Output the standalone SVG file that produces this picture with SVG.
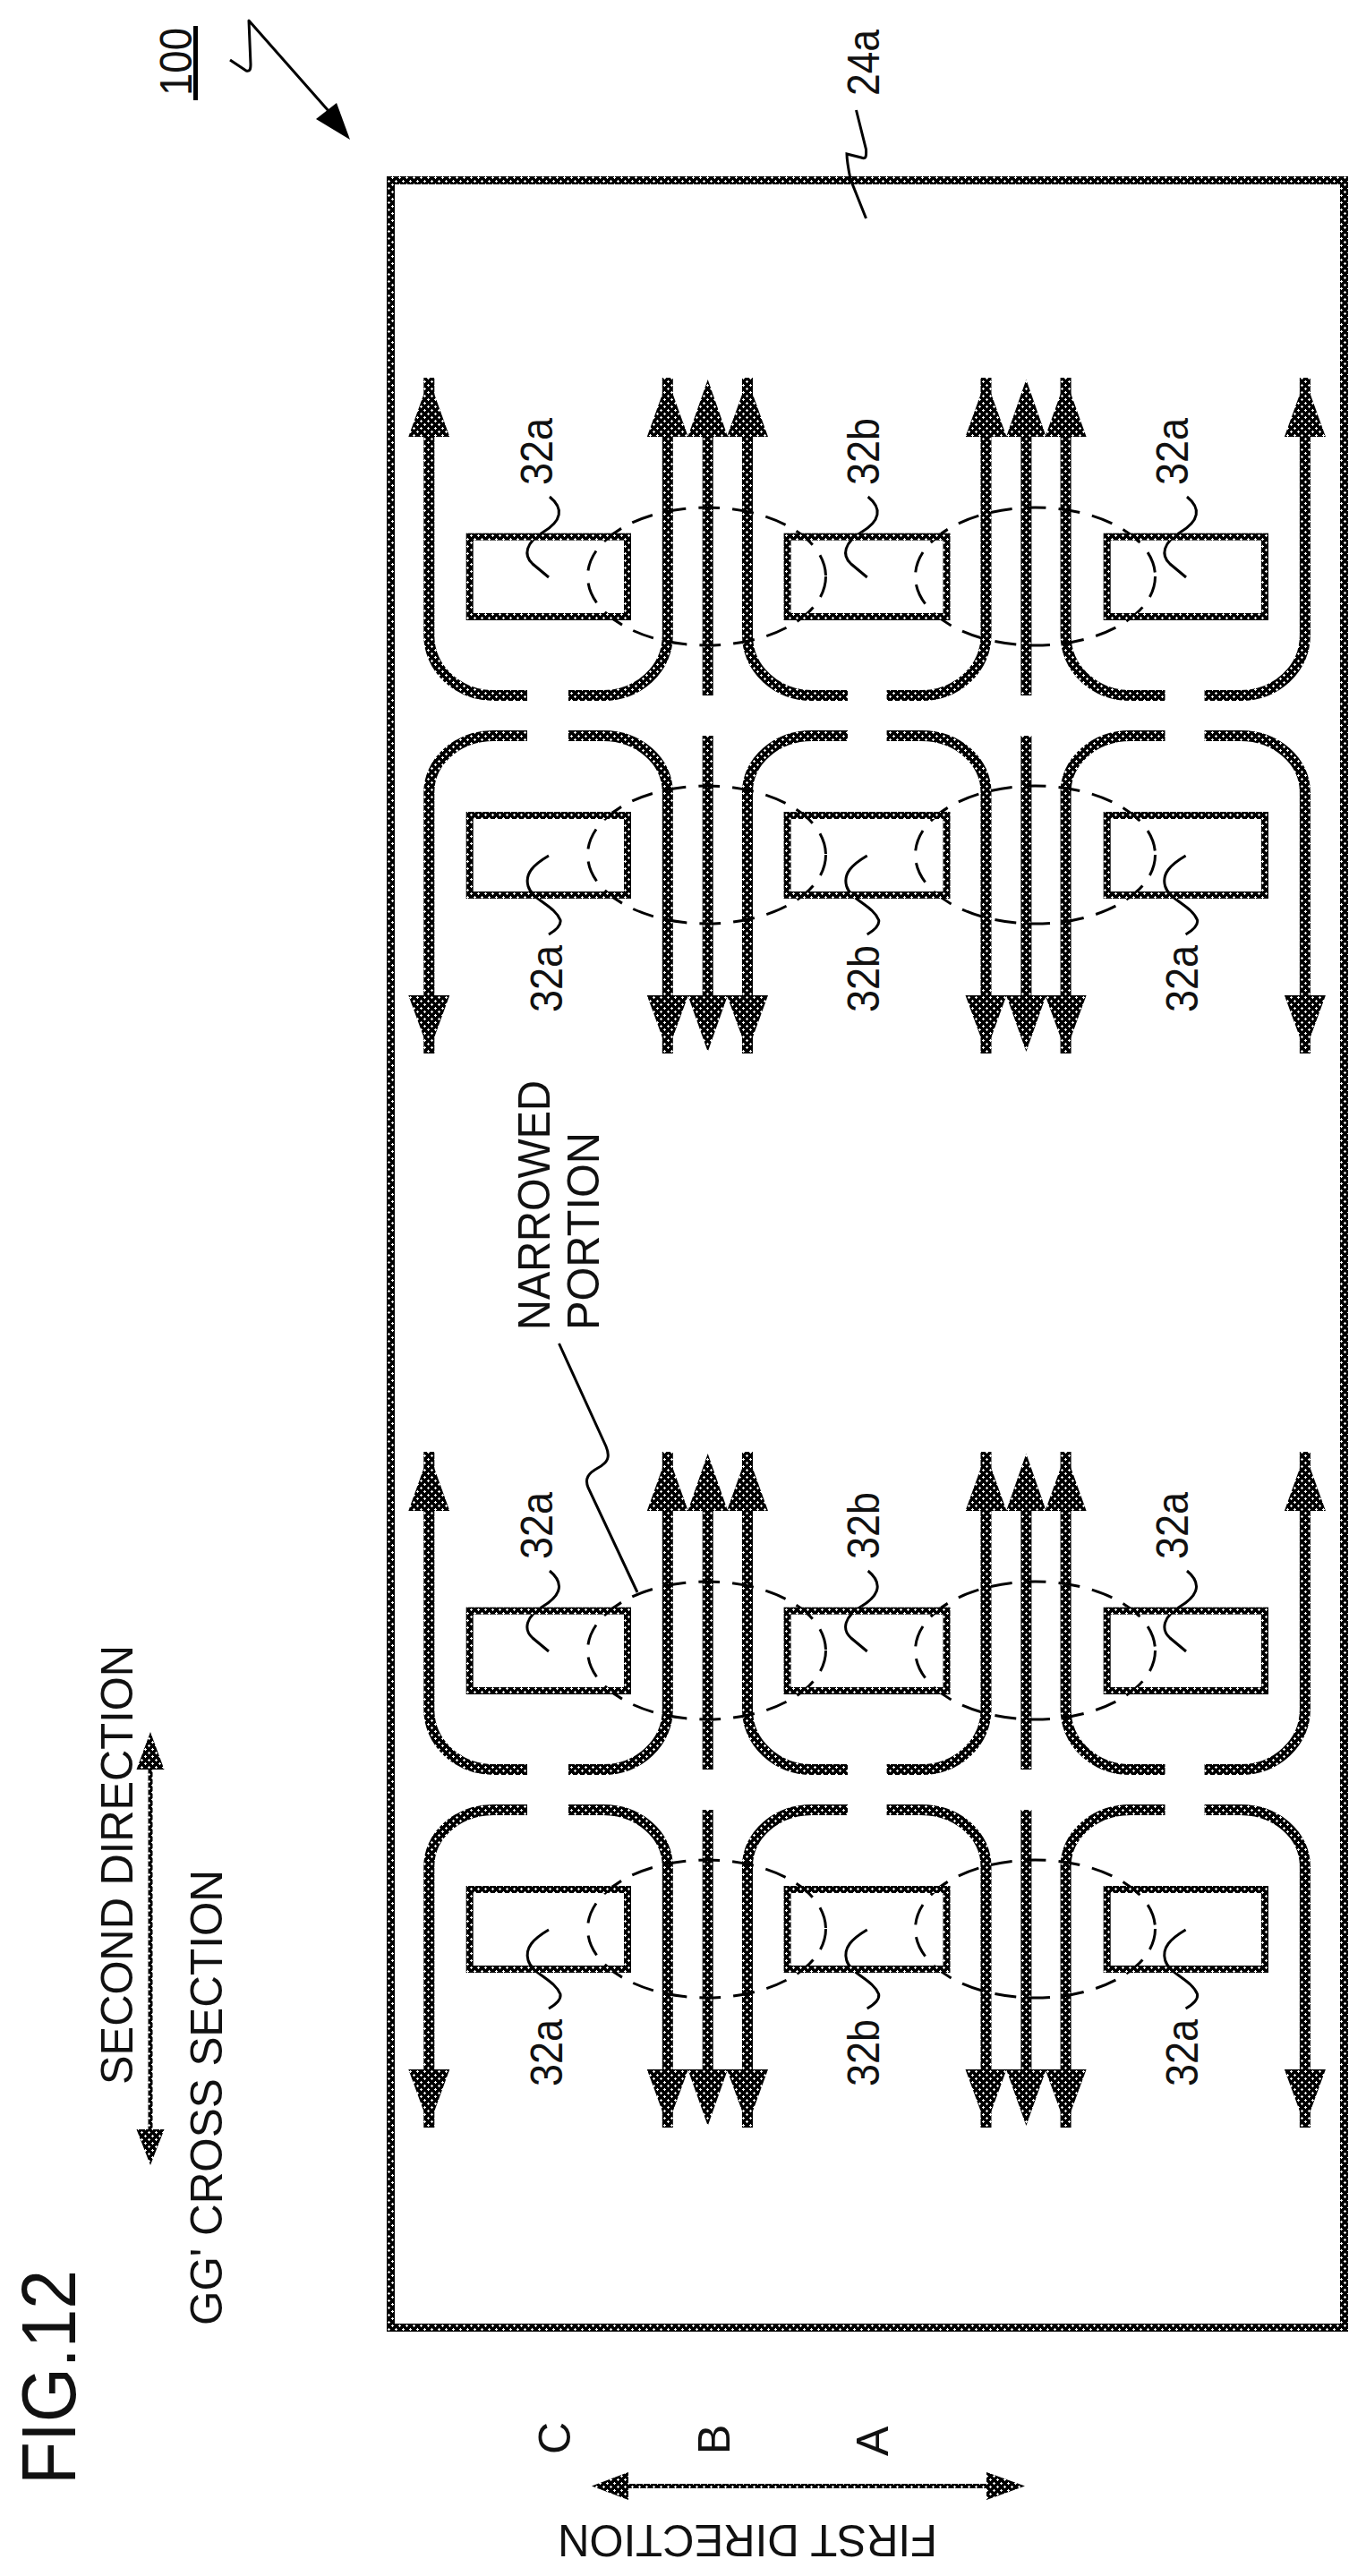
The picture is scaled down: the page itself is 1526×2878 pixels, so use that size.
<svg xmlns="http://www.w3.org/2000/svg" xmlns:xlink="http://www.w3.org/1999/xlink" width="1526" height="2878" viewBox="0 0 1526 2878">
<style>
.t{fill:none;stroke:url(#ht);stroke-width:12}
.h{fill:url(#ht)}
.s{fill:none;stroke:url(#ht);stroke-width:5}
.r{fill:none;stroke:url(#ht);stroke-width:8}
.f{fill:none;stroke:url(#ht);stroke-width:9}
.d{fill:none;stroke:#000;stroke-width:3;stroke-dasharray:24 14}
.l{fill:none;stroke:#000;stroke-width:3}
text{font-family:"Liberation Sans",Arial,sans-serif;font-size:50px;fill:#111}
</style>
<defs>
<pattern id="ht" patternUnits="userSpaceOnUse" width="8" height="8">
<rect width="8" height="8" fill="#000"/>
<path d="M1 2h3v1h-3zM2 1h1v3h-1zM5 6h3v1h-3zM6 5h1v3h-1z" fill="#fff"/>
</pattern>
<g id="flowUp">
<path class="t" d="M479.3 422V710A72 67 0 0 0 551 777H589"/>
<path class="t" d="M635 777H674A72 67 0 0 0 745.8 710V422"/>
<path class="t" d="M835 422V710A72 67 0 0 0 907 777H947"/>
<path class="t" d="M990.6 777H1029.5A72 67 0 0 0 1101.5 710V422"/>
<path class="t" d="M1190.6 422V710A72 67 0 0 0 1262.6 777H1301.5"/>
<path class="t" d="M1345.6 777H1386A72 67 0 0 0 1457.9 710V422"/>
<path class="t" d="M790.7 488V777M1146.4 488V777"/>
<path class="h" d="M479.3 424L502.3 488H456.3zM745.8 424L768.8 488H722.8zM790.7 424L813 488H768.4zM835 424L858 488H812zM1101.5 424L1124.5 488H1078.5zM1146.4 424L1168.7 488H1124.1zM1190.6 424L1213.6 488H1167.6zM1457.9 424L1480.9 488H1434.9z"/>
</g>
<g id="flowDown">
<path class="t" d="M479.3 1177V885A72 63 0 0 1 551 822H589"/>
<path class="t" d="M635 822H674A72 63 0 0 1 745.8 885V1177"/>
<path class="t" d="M835 1177V885A72 63 0 0 1 907 822H947"/>
<path class="t" d="M990.6 822H1029.5A72 63 0 0 1 1101.5 885V1177"/>
<path class="t" d="M1190.6 1177V885A72 63 0 0 1 1262.6 822H1301.5"/>
<path class="t" d="M1345.6 822H1386A72 63 0 0 1 1457.9 885V1177"/>
<path class="t" d="M790.7 822V1112M1146.4 822V1112"/>
<path class="h" d="M479.3 1175L502.3 1112H456.3zM745.8 1175L768.8 1112H722.8zM790.7 1175L813 1112H768.4zM835 1175L858 1112H812zM1101.5 1175L1124.5 1112H1078.5zM1146.4 1175L1168.7 1112H1124.1zM1190.6 1175L1213.6 1112H1167.6zM1457.9 1175L1480.9 1112H1434.9z"/>
</g>
<g id="rings">
<ellipse class="d" cx="789.5" cy="644" rx="133" ry="77"/>
<ellipse class="d" cx="1156.5" cy="644" rx="134" ry="77"/>
<ellipse class="d" cx="789.5" cy="955" rx="133" ry="77"/>
<ellipse class="d" cx="1156.5" cy="955" rx="134" ry="77"/>
</g>
<g id="leaders">
<path class="l" d="M614 555C630 568 628 582 606 595C588 606 584 620 595 630L613 645"/>
<path class="l" d="M969.7 555C985.7 568 983.7 582 961.7 595C943.7 606 939.7 620 950.7 630L968.7 645"/>
<path class="l" d="M1326 555C1342 568 1340 582 1318 595C1300 606 1296 620 1307 630L1325 645"/>
<path class="l" d="M613 956C596 966 586 976 590 990C594 1005 620 1012 626 1028C627 1034 620 1040 613 1044"/>
<path class="l" d="M968.7 956C951.7 966 941.7 976 945.7 990C949.7 1005 975.7 1012 981.7 1028C982.7 1034 975.7 1040 968.7 1044"/>
<path class="l" d="M1324.6 956C1307.6 966 1297.6 976 1301.6 990C1305.6 1005 1331.6 1012 1337.6 1028C1338.6 1034 1331.6 1040 1324.6 1044"/>
</g>
</defs>
<rect width="1526" height="2878" fill="#fff"/>
<g id="frame-24a"><rect class="f" x="436.5" y="201.5" width="1065" height="2399"/>
<text transform="translate(982,107) rotate(-90)" textLength="74" lengthAdjust="spacingAndGlyphs">24a</text>
<path class="l" d="M956.5 123L967.5 167C968 176 967 178 962 176L946 172C946 180 948 190 950 200L967.5 244"/></g>
<g id="connectors">
<use href="#flowUp"/><use href="#flowDown"/>
<use href="#flowUp" transform="translate(0,1200)"/><use href="#flowDown" transform="translate(0,1200)"/>
<use href="#rings"/><use href="#rings" transform="translate(0,1200)"/>
<use href="#leaders"/><use href="#leaders" transform="translate(0,1200)"/>
</g>
<g id="node-r1c1"><rect class="r" x="524.7" y="599.7" width="176.3" height="89.3"/><text transform="translate(617,542) rotate(-90)" textLength="75" lengthAdjust="spacingAndGlyphs">32a</text></g>
<g id="node-r1c2"><rect class="r" x="879.6" y="599.7" width="177.9" height="89.3"/><text transform="translate(982,542) rotate(-90)" textLength="75" lengthAdjust="spacingAndGlyphs">32b</text></g>
<g id="node-r1c3"><rect class="r" x="1236.7" y="599.7" width="176.3" height="89.3"/><text transform="translate(1327,542) rotate(-90)" textLength="75" lengthAdjust="spacingAndGlyphs">32a</text></g>
<g id="node-r2c1"><rect class="r" x="524.7" y="911" width="176.3" height="89"/><text transform="translate(628,1131) rotate(-90)" textLength="75" lengthAdjust="spacingAndGlyphs">32a</text></g>
<g id="node-r2c2"><rect class="r" x="879.6" y="911" width="177.9" height="89"/><text transform="translate(982,1131) rotate(-90)" textLength="75" lengthAdjust="spacingAndGlyphs">32b</text></g>
<g id="node-r2c3"><rect class="r" x="1236.7" y="911" width="176.3" height="89"/><text transform="translate(1338,1131) rotate(-90)" textLength="75" lengthAdjust="spacingAndGlyphs">32a</text></g>
<g id="node-r3c1"><rect class="r" x="524.7" y="1799.7" width="176.3" height="89.3"/><text transform="translate(617,1742) rotate(-90)" textLength="75" lengthAdjust="spacingAndGlyphs">32a</text></g>
<g id="node-r3c2"><rect class="r" x="879.6" y="1799.7" width="177.9" height="89.3"/><text transform="translate(982,1742) rotate(-90)" textLength="75" lengthAdjust="spacingAndGlyphs">32b</text></g>
<g id="node-r3c3"><rect class="r" x="1236.7" y="1799.7" width="176.3" height="89.3"/><text transform="translate(1327,1742) rotate(-90)" textLength="75" lengthAdjust="spacingAndGlyphs">32a</text></g>
<g id="node-r4c1"><rect class="r" x="524.7" y="2111" width="176.3" height="89"/><text transform="translate(628,2331) rotate(-90)" textLength="75" lengthAdjust="spacingAndGlyphs">32a</text></g>
<g id="node-r4c2"><rect class="r" x="879.6" y="2111" width="177.9" height="89"/><text transform="translate(982,2331) rotate(-90)" textLength="75" lengthAdjust="spacingAndGlyphs">32b</text></g>
<g id="node-r4c3"><rect class="r" x="1236.7" y="2111" width="176.3" height="89"/><text transform="translate(1338,2331) rotate(-90)" textLength="75" lengthAdjust="spacingAndGlyphs">32a</text></g>
<g id="narrowed">
<text transform="translate(614,1486) rotate(-90)" textLength="279" lengthAdjust="spacingAndGlyphs">NARROWED</text>
<text transform="translate(669,1486) rotate(-90)" textLength="221" lengthAdjust="spacingAndGlyphs">PORTION</text>
<path class="l" d="M624.5 1501L677 1616C682 1628 679 1634 668 1640C657 1646 653 1652 657 1662L712 1779"/>
</g>
<g id="ref-100">
<text transform="translate(214,107) rotate(-90)" textLength="76" lengthAdjust="spacingAndGlyphs">100</text>
<rect x="216" y="29" width="5" height="83" fill="#000"/>
<path class="l" stroke-linejoin="round" d="M257 67L275 79C279 80 280 78 280 72L278 23L375 133"/>
<path fill="#000" d="M353 133L376 115L391 156Z"/>
</g>
<g id="fig-title"><text transform="translate(84,2776) rotate(-90)" style="font-size:86px" textLength="240" lengthAdjust="spacingAndGlyphs">FIG.12</text></g>
<g id="second-direction">
<text transform="translate(148,2329) rotate(-90)" textLength="491" lengthAdjust="spacingAndGlyphs">SECOND DIRECTION</text>
<path class="s" d="M168 1977V2379"/>
<path class="h" d="M168 1935L183.500 1977H152.500zM168 2419L183.500 2379H152.500z"/>
</g>
<g id="gg-section"><text transform="translate(248,2598) rotate(-90)" textLength="509" lengthAdjust="spacingAndGlyphs">GG' CROSS SECTION</text></g>
<g id="first-direction">
<text transform="translate(1047,2821) rotate(180)" textLength="424" lengthAdjust="spacingAndGlyphs">FIRST DIRECTION</text>
<path class="s" d="M701 2777.500H1103"/>
<path class="h" d="M661 2777.500L702 2762V2793zM1145 2777.500L1102 2762V2793z"/>
<text transform="translate(637,2742) rotate(-90)">C</text>
<text transform="translate(815,2742) rotate(-90)">B</text>
<text transform="translate(992,2744) rotate(-90)">A</text>
</g>
</svg>
